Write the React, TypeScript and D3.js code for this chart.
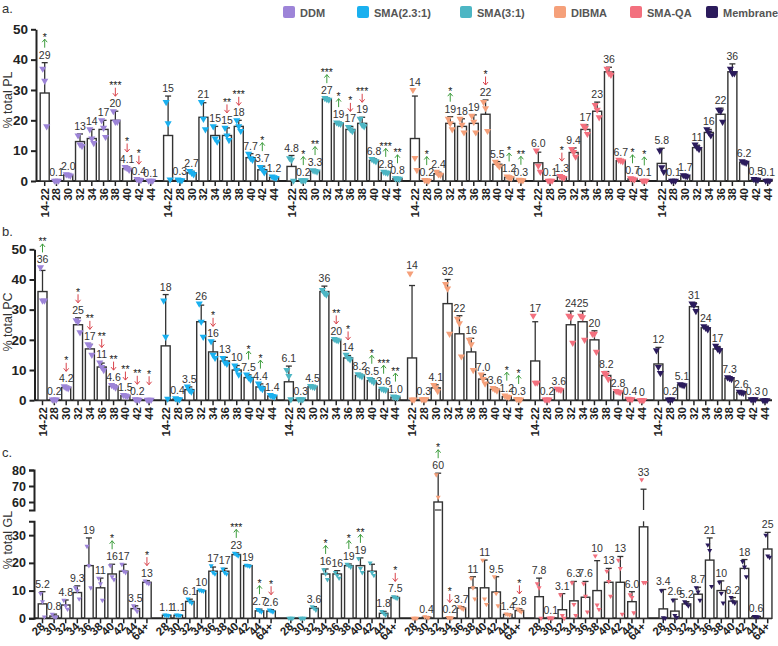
import React, { useEffect, useRef } from "react";
import * as d3 from "d3";

const series = ["DDM", "SMA(2.3:1)", "SMA(3:1)", "DIBMA", "SMA-QA", "Membrane"];
const colors = ["#9d84d8", "#1ab0ef", "#4db6c4", "#f5a07a", "#f3707e", "#2b1b5c"];
const catsAB = ["14-22", "28", "30", "32", "34", "36", "38", "40", "42", "44"];
const catsC = ["28", "30", "32", "34", "36", "38", "40", "42", "44", "64+"];

// ---- panel a: % total PL
const plMeans = [
  [29, 0.1, 2.0, 13, 14, 17, 20, 4.1, 0.4, 0.1],
  [15, 0.3, 2.7, 21, 15, 15, 18, 7.7, 3.7, 1.2],
  [4.8, 0.2, 3.3, 27, 19, 17, 19, 6.8, 2.8, 0.8],
  [14, 0.2, 2.4, 19, 18, 19, 22, 5.5, 1.2, 0.3],
  [6.0, 0.1, 1.3, 9.4, 17, 23, 36, 6.7, 0.7, 0.1],
  [5.8, 0.1, 1.7, 11, 16, 22, 36, 6.2, 0.5, 0.1],
];
const plSd = [
  [10, 0.1, 0.3, 2.5, 3, 3, 3, 0.5, 0.2, 0.05],
  [13, 0.2, 0.5, 4.8, 3, 2.5, 2, 1.3, 1.2, 0.3],
  [3.6, 0.1, 0.3, 0.3, 0.4, 1, 2, 0.5, 0.2, 0.1],
  [14, 0.1, 0.5, 2.2, 2.5, 2.8, 4.7, 0.9, 0.3, 0.1],
  [3.5, 0.1, 0.3, 1.5, 1.5, 3, 1.5, 0.3, 0.2, 0.1],
  [5, 0.1, 0.2, 0.8, 1, 2, 2.6, 0.3, 0.1, 0.1],
];
const plPts = [
  [[37, 33, 18], [0.1, 0.1, 0.1], [2.2, 2, 1.8], [15, 12, 11.5], [17, 14, 12.5], [20, 17.5, 14.5], [23, 19.5, 19.5], [4.6, 4.2, 3.7], [0.6, 0.4, 0.3], [0.1, 0.1, 0.1]],
  [[26, 19, 0.5], [0.5, 0.3, 0.2], [3.3, 2.7, 2.2], [26, 20.5, 17], [18, 14, 13], [17.5, 15, 13.5], [20, 18, 16.5], [9, 7.5, 7], [4.6, 3.8, 2.8], [1.5, 1.2, 1]],
  [[7.5, 7, 0.1], [0.2, 0.2, 0.2], [3.5, 3.3, 3.1], [27.3, 27, 26.8], [19.3, 19, 18.8], [17.8, 17, 16.4], [20.5, 18.5, 18], [7.2, 6.8, 6.5], [3, 2.8, 2.7], [0.9, 0.8, 0.7]],
  [[30, 7.6, 3.6], [0.3, 0.2, 0.1], [3, 2.2, 2], [20.5, 19, 17], [20.5, 18.5, 16], [21.5, 19.5, 16], [26, 24, 16.5], [6.3, 5.5, 4.8], [1.5, 1.2, 1], [0.4, 0.3, 0.2]],
  [[10, 5, 3], [0.1, 0.1, 0.1], [1.6, 1.3, 1], [10.5, 9.5, 8], [18.2, 17.5, 15.5], [25, 23.5, 21], [37, 35.5, 35], [7, 6.7, 6.5], [0.9, 0.7, 0.5], [0.1, 0.1, 0.1]],
  [[10, 4.5, 3], [0.1, 0.1, 0.1], [1.9, 1.7, 1.5], [12, 11, 10.5], [17, 16, 15], [23.5, 23, 19.5], [37, 35.5, 35.5], [6.5, 6.2, 6], [0.6, 0.5, 0.4], [0.1, 0.1, 0.1]],
];
const plLabels = [
  ["29", "0.1", "2.0", "13", "14", "17", "20", "4.1", "0.4", "0.1"],
  ["15", "0.3", "2.7", "21", "15", "15", "18", "7.7", "3.7", "1.2"],
  ["4.8", "0.2", "3.3", "27", "19", "17", "19", "6.8", "2.8", "0.8"],
  ["14", "0.2", "2.4", "19", "18", "19", "22", "5.5", "1.2", "0.3"],
  ["6.0", "0.1", "1.3", "9.4", "17", "23", "36", "6.7", "0.7", "0.1"],
  ["5.8", "0.1", "1.7", "11", "16", "22", "36", "6.2", "0.5", "0.1"],
];
const plNotes = [
  ["u*", "", "", "", "", "", "d***", "d*", "d*", ""],
  ["", "", "", "", "", "d**", "d***", "", "u*", ""],
  ["", "u*", "u**", "u***", "u*", "d*", "d***", "", "u***", "u**"],
  ["", "u*", "", "u*", "", "", "d*", "", "u*", "u**"],
  ["", "", "d*", "", "", "", "", "", "u*", "u*"],
  ["", "", "", "", "", "", "", "", "", ""],
];

// ---- panel b: % total PC
const pcMeans = [
  [36, 0.2, 4.2, 25, 17, 11, 4.6, 1.5, 0.2, 0.1],
  [18, 0.4, 3.5, 26, 16, 13, 10, 7.5, 4.4, 1.4],
  [6.1, 0.3, 4.5, 36, 20, 14, 8.2, 6.5, 3.6, 1.0],
  [14, 0.3, 4.1, 32, 22, 16, 7.0, 3.6, 1.2, 0.3],
  [13, 0.2, 3.6, 25, 26, 20, 8.2, 2.8, 0.4, 0],
  [12, 0.2, 5.1, 31, 24, 17, 7.3, 2.6, 0.3, 0],
];
const pcSd = [
  [7, 0.1, 0.4, 2.3, 1.5, 1.3, 0.4, 0.2, 0.1, 0.05],
  [17, 0.2, 0.9, 5.5, 3.5, 1.2, 1.5, 0.9, 1, 0.3],
  [5.2, 0.1, 0.2, 1.8, 0.3, 0.8, 0.4, 0.6, 0.2, 0.2],
  [24, 0.1, 1, 8, 6, 4.5, 1.5, 0.5, 0.3, 0.1],
  [13, 0.1, 0.2, 4.5, 3.5, 3, 1.3, 0.2, 0.1, 0],
  [5.5, 0.1, 0.2, 1.3, 0.5, 0.8, 0.3, 0.2, 0.1, 0],
];
const pcPts = [
  [[44, 33, 33], [0.2, 0.2, 0.2], [4.6, 4.2, 3.9], [26.5, 26, 22.5], [18.5, 18, 15], [12.5, 11, 10], [5, 4.7, 4.2], [1.7, 1.5, 1.3], [0.3, 0.2, 0.1], [0.1, 0.1, 0.1]],
  [[33, 21, 0.5], [0.6, 0.4, 0.3], [4.5, 3.3, 2.8], [32, 26, 21], [19.5, 15, 14], [14, 12.5, 12], [11.5, 10, 8.5], [8.5, 7.5, 6.8], [5.5, 4.2, 3.7], [1.7, 1.4, 1.2]],
  [[10, 8, 0.3], [0.3, 0.3, 0.3], [4.7, 4.5, 4.3], [36.5, 35.5, 35], [20.3, 20, 19.8], [15, 14, 13.5], [8.6, 8.2, 7.9], [7, 6.5, 6], [3.8, 3.6, 3.4], [1.2, 1, 0.9]],
  [[42, 0.2, 0.2], [0.3, 0.3, 0.3], [5, 4.2, 3], [38.5, 37, 22], [27, 25.5, 14.5], [20, 18.5, 10], [8.5, 7, 5.5], [4, 3.6, 3.2], [1.5, 1.2, 1], [0.4, 0.3, 0.2]],
  [[28, 5.8, 5.8], [0.2, 0.2, 0.2], [3.8, 3.6, 3.4], [28, 27.5, 19], [28, 27.5, 20], [22, 22, 16], [9, 8.5, 7], [3, 2.8, 2.6], [0.5, 0.4, 0.3], [0, 0, 0]],
  [[16.5, 11, 9], [0.2, 0.2, 0.2], [5.3, 5.1, 4.9], [32, 31.5, 29.5], [24.5, 24, 23.5], [18, 17, 16.5], [7.6, 7.3, 7], [2.8, 2.6, 2.4], [0.3, 0.3, 0.3], [0, 0, 0]],
];
const pcLabels = [
  ["36", "0.2", "4.2", "25", "17", "11", "4.6", "1.5", "0.2", ""],
  ["18", "0.4", "3.5", "26", "16", "13", "10", "7.5", "4.4", "1.4"],
  ["6.1", "0.3", "4.5", "36", "20", "14", "8.2", "6.5", "3.6", "1.0"],
  ["14", "0.3", "4.1", "32", "22", "16", "7.0", "3.6", "1.2", "0.3"],
  ["17", "0.2", "3.6", "24", "25", "20", "8.2", "2.8", "0.4", "0"],
  ["12", "0.2", "5.1", "31", "24", "17", "7.3", "2.6", "0.3", "0"],
];
const pcNotes = [
  ["u**", "", "d*", "d*", "d**", "d**", "d**", "d**", "d**", "d*"],
  ["", "", "", "", "d*", "", "", "u*", "u*", ""],
  ["", "", "", "", "d**", "d*", "", "u*", "u***", "u**"],
  ["", "", "", "", "", "", "", "", "u*", "u*"],
  ["", "", "", "", "", "", "", "", "", ""],
  ["", "", "", "", "", "", "", "", "", ""],
];

// ---- panel c: % total GL (broken axis)
const glMeans = [
  [5.2, 0.8, 4.8, 9.3, 19, 11, 16, 17, 3.5, 13],
  [1.1, 1.1, 6.1, 10, 17, 17, 23, 19, 2.7, 2.6],
  [0, 0, 3.6, 16, 16, 19, 19, 17, 1.8, 7.5],
  [0, 0.4, 60, 0.2, 3.7, 11, 11, 9.5, 1.4, 2.8],
  [7.8, 0.1, 3.1, 6.3, 7.6, 10, 13, 13, 6.0, 33],
  [3.4, 2.6, 5.2, 8.7, 21, 10, 6.2, 18, 0.6, 25],
];
const glSd = [
  [4.4, 0.7, 1.8, 2.4, 10, 3.5, 3.5, 2.5, 1, 0.6],
  [0.2, 0.2, 0.8, 0.2, 1.5, 1, 0.6, 0.2, 0.6, 0.5],
  [0, 0, 0.6, 1.8, 1.2, 0.6, 2.8, 2.5, 0.7, 0.4],
  [0, 0.2, 18, 0.1, 0.5, 4, 10, 5.5, 0.3, 0.6],
  [6.7, 0.1, 5.8, 7, 5.7, 10.8, 5, 9.3, 3.6, 35],
  [7, 4.3, 0.8, 2.5, 8, 3.5, 1.3, 3.2, 0.1, 6],
];
const glPts = [
  [[9, 6, 0.5], [1.5, 0.5, 0.4], [6.5, 4.5, 3.3], [11, 10, 7], [26, 19, 11], [14.5, 12.5, 6.5], [19, 15, 14], [19.5, 17, 16.5], [4.5, 3.5, 2.5], [13.5, 12.8, 12.5]],
  [[1.2, 1.1, 1], [1.2, 1.1, 1], [7, 6, 5.5], [10.2, 10, 9.8], [19, 16.5, 16], [17.8, 16.5, 16], [23.5, 23, 22.5], [19.2, 19, 18.8], [3.2, 2.7, 2.3], [3, 2.6, 2.3]],
  [[0, 0, 0], [0, 0, 0], [4.2, 3.6, 3], [17.5, 16, 14], [16.5, 15.5, 14.5], [19.5, 19, 18.5], [21.5, 18, 16.5], [20, 16.5, 15.5], [2.5, 1.8, 1.2], [7.8, 7.5, 7.2]],
  [[0, 0, 0], [0.6, 0.4, 0.2], [77, 63], [0.3, 0.2, 0.1], [4.2, 3.7, 3.3], [14.5, 11, 7], [21, 7, 5], [15, 9, 4.5], [1.6, 1.4, 1.2], [3.4, 2.8, 2.3]],
  [[12.5, 11, 0], [0.1, 0.1, 0.1], [8.5, 1, 0], [12.8, 5, 1], [12.5, 8, 2.3], [22.5, 4.8, 3.2], [17, 13.3, 8], [21, 18, 1.5], [8.5, 7.5, 2], [74, 12.9, 12.9]],
  [[10, 0.2, 0], [6.5, 1, 0.3], [6, 5.3, 4.5], [11, 9.5, 6.5], [26.5, 24.5, 11.5], [13, 9, 5.5], [7.5, 6, 5.5], [20.5, 18.5, 15], [0.7, 0.6, 0.5], [30, 22.5, 22]],
];
const glLabels = [
  ["5.2", "0.8", "4.8", "9.3", "19", "11", "16", "17", "3.5", "13"],
  ["1.1", "1.1", "6.1", "10", "17", "17", "23", "19", "2.7", "2.6"],
  ["", "", "3.6", "16", "16", "19", "19", "", "1.8", "7.5"],
  ["", "0.4", "60", "0.2", "3.7", "11", "11", "9.5", "1.4", "2.8"],
  ["7.8", "0.1", "3.1", "6.3", "7.6", "10", "13", "13", "6.0", "33"],
  ["3.4", "2.6", "5.2", "8.7", "21", "10", "6.2", "18", "0.6", "25"],
];
const glNotes = [
  ["", "", "", "", "", "", "u*", "", "", "d*"],
  ["", "", "", "", "", "", "u***", "", "u*", "d*"],
  ["", "", "", "u*", "", "u*", "u**", "", "", "d*"],
  ["", "", "u*", "d*", "", "", "", "", "", "d*"],
  ["", "", "", "", "", "", "", "", "", ""],
  ["", "", "", "", "", "", "", "", "", ""],
];

const FONT = "Liberation Sans, Arial, sans-serif";

function drawPanel(svg, p) {
  const n = 5 * p.stride + 9;
  const x = d3.scaleLinear().domain([0, n]).range([p.x0, p.x1]);
  const lower = d3.scaleLinear().domain(p.lowDomain).range(p.lowRange);
  const upper = p.upDomain ? d3.scaleLinear().domain(p.upDomain).range(p.upRange) : null;
  const cut = p.lowDomain[1];
  const yv = (v) => {
    if (!upper || v <= cut) return lower(v);
    if (v >= p.upDomain[0]) return upper(v);
    return null;
  };
  const y0 = lower(0);
  const g = svg.append("g");

  // axes
  g.append("line")
    .attr("x1", p.axisX).attr("x2", 772).attr("y1", y0).attr("y2", y0)
    .attr("stroke", "#222").attr("stroke-width", 2);

  const styleAxis = (sel, fs) => {
    sel.select(".domain").attr("stroke", "#222").attr("stroke-width", 2);
    sel.selectAll(".tick line").attr("stroke", "#222").attr("stroke-width", 2);
    sel.selectAll(".tick text").attr("font-family", FONT).attr("font-weight", "bold").attr("font-size", fs).attr("fill", "#222");
  };
  const ax = g.append("g").attr("transform", `translate(${p.axisX},0)`)
    .call(d3.axisLeft(lower).tickValues(p.lowTicks).tickSize(5).tickSizeOuter(upper ? 5 : 0).tickPadding(3));
  styleAxis(ax, p.tickFs);
  if (upper) {
    const ax2 = g.append("g").attr("transform", `translate(${p.axisX},0)`)
      .call(d3.axisLeft(upper).tickValues(p.upTicks).tickSize(5).tickSizeOuter(5).tickPadding(3));
    styleAxis(ax2, p.tickFs);
  }

  g.append("text")
    .attr("transform", `translate(12,${p.titleY}) rotate(-90)`)
    .attr("text-anchor", "middle").attr("font-family", FONT).attr("font-size", 12.5).attr("fill", "#333")
    .text(p.title);
  g.append("text").attr("x", 2).attr("y", p.letterY).attr("font-family", FONT).attr("font-size", 13).attr("fill", "#333").text(p.letter);

  const bars = [];
  series.forEach((s, gi) => {
    p.cats.forEach((c, i) => {
      bars.push({ gi, i, cat: c, m: p.means[gi][i], sd: p.sd[gi][i], pts: p.pts[gi][i], label: p.labels[gi][i], note: p.notes[gi][i], cx: x(gi * p.stride + i) });
    });
  });

  // x ticks + labels
  const tk = g.append("g");
  bars.forEach((b) => {
    tk.append("line").attr("x1", b.cx).attr("x2", b.cx).attr("y1", y0).attr("y2", y0 + 5).attr("stroke", "#222").attr("stroke-width", 1.5);
    if (p.rot === -90) {
      tk.append("text")
        .attr("transform", `translate(${b.cx + 4},${y0 + 7}) rotate(-90)`)
        .attr("text-anchor", "end").attr("font-family", FONT).attr("font-weight", "bold").attr("font-size", 11.5).attr("fill", "#222")
        .text(b.cat);
    } else {
      tk.append("text")
        .attr("transform", `translate(${b.cx + 3},${y0 + 9}) rotate(-45)`)
        .attr("text-anchor", "end").attr("font-family", FONT).attr("font-weight", "bold").attr("font-size", 11.5).attr("fill", "#222")
        .text(b.cat);
    }
  });

  const bw = p.bw;
  // bars
  bars.forEach((b) => {
    const top = yv(b.m);
    g.append("rect")
      .attr("x", b.cx - bw / 2).attr("y", top).attr("width", bw).attr("height", Math.max(0, y0 - top))
      .attr("fill", "#fff").attr("stroke", "#333").attr("stroke-width", 1.4);
    if (upper && b.m > cut) {
      g.append("line").attr("x1", b.cx - bw / 2 + 1).attr("x2", b.cx + bw / 2 - 1)
        .attr("y1", upper(p.upDomain[0])).attr("y2", upper(p.upDomain[0])).attr("stroke", "#333").attr("stroke-width", 1.2);
    }
  });

  // error bars (upper whisker only)
  bars.forEach((b) => {
    if (!(b.sd > 0)) return;
    const a = b.m;
    const t = b.m + b.sd;
    const segs = [];
    if (!upper || t <= cut) segs.push([yv(a), yv(t)]);
    else if (a >= p.upDomain[0]) segs.push([yv(a), yv(t)]);
    else {
      segs.push([lower(a), lower(cut)]);
      if (t >= p.upDomain[0]) segs.push([upper(p.upDomain[0]), upper(t)]);
    }
    segs.forEach(([s, e]) => {
      g.append("line").attr("x1", b.cx).attr("x2", b.cx).attr("y1", s).attr("y2", e).attr("stroke", "#333").attr("stroke-width", 1.3);
    });
    const yt = yv(t);
    if (yt != null) {
      g.append("line").attr("x1", b.cx - 3).attr("x2", b.cx + 3).attr("y1", yt).attr("y2", yt).attr("stroke", "#333").attr("stroke-width", 1.3);
    }
  });

  // replicate points
  const tri = d3.symbol(d3.symbolTriangle, p.ptSize);
  bars.forEach((b) => {
    b.pts.forEach((v, k) => {
      const yy = yv(v);
      if (yy == null) return;
      const dx = (k - 1) * (bw * 0.22);
      g.append("path")
        .attr("d", tri())
        .attr("transform", `translate(${b.cx + dx},${yy}) rotate(180)`)
        .attr("fill", colors[b.gi]);
    });
  });

  // value labels + annotations
  bars.forEach((b) => {
    const ys = [yv(b.m), b.sd > 0 ? yv(b.m + b.sd) : null, ...b.pts.map(yv)].filter((v) => v != null);
    const top = Math.min(...ys);
    const base = top - 4;
    if (b.label) {
      g.append("text").attr("x", b.cx).attr("y", base).attr("text-anchor", "middle")
        .attr("font-family", FONT).attr("font-size", 10.5).attr("fill", "#333").text(b.label);
    }
    if (b.note) {
      const dir = b.note[0];
      const stars = b.note.slice(1);
      const ab = base - 11;
      const at = base - 19.5;
      const col = dir === "u" ? "#3f9e3f" : "#d9434b";
      const d = dir === "u"
        ? `M${b.cx},${ab}L${b.cx},${at}M${b.cx - 2.5},${at + 3}L${b.cx},${at}L${b.cx + 2.5},${at + 3}`
        : `M${b.cx},${at}L${b.cx},${ab}M${b.cx - 2.5},${ab - 3}L${b.cx},${ab}L${b.cx + 2.5},${ab - 3}`;
      g.append("path").attr("d", d).attr("fill", "none").attr("stroke", col).attr("stroke-width", 1);
      g.append("text").attr("x", b.cx).attr("y", at + 1.5).attr("text-anchor", "middle")
        .attr("font-family", FONT).attr("font-size", 10.5).attr("fill", "#222").text(stars);
    }
  });
}

const panels = [
  {
    letter: "a.", letterY: 13, title: "% total PL", titleY: 100,
    means: plMeans, sd: plSd, pts: plPts, labels: plLabels, notes: plNotes, cats: catsAB,
    x0: 44.7, x1: 767.7, stride: 10.48, bw: 9, axisX: 36,
    lowDomain: [0, 50], lowRange: [181, 29.3], lowTicks: [0, 10, 20, 30, 40, 50],
    rot: -90, tickFs: 13.5, ptSize: 22,
  },
  {
    letter: "b.", letterY: 236, title: "% total PC", titleY: 322,
    means: pcMeans, sd: pcSd, pts: pcPts, labels: pcLabels, notes: pcNotes, cats: catsAB,
    x0: 42.5, x1: 765, stride: 10.4, bw: 9, axisX: 34.5,
    lowDomain: [0, 50], lowRange: [400.2, 249.3], lowTicks: [0, 10, 20, 30, 40, 50],
    rot: -90, tickFs: 13.5, ptSize: 22,
  },
  {
    letter: "c.", letterY: 457, title: "% total GL", titleY: 540,
    means: glMeans, sd: glSd, pts: glPts, labels: glLabels, notes: glNotes, cats: catsC,
    x0: 42.5, x1: 767.7, stride: 10.7, bw: 8.5, axisX: 34,
    lowDomain: [0, 35], lowRange: [618.3, 521.3], lowTicks: [0, 10, 20, 30],
    upDomain: [55, 80], upRange: [510, 470], upTicks: [60, 70, 80],
    rot: -45, tickFs: 12.5, ptSize: 11,
  },
];

const legendX = [283, 357, 460, 554, 630, 706];

export default function App() {
  const ref = useRef(null);
  useEffect(() => {
    const svg = d3.select(ref.current);
    svg.selectAll("*").remove();
    panels.forEach((p) => drawPanel(svg, p));
    const lg = svg.append("g");
    series.forEach((s, i) => {
      lg.append("rect").attr("x", legendX[i]).attr("y", 6).attr("width", 12).attr("height", 12).attr("rx", 2).attr("fill", colors[i]);
      lg.append("text").attr("x", legendX[i] + 17).attr("y", 16.5)
        .attr("font-family", FONT).attr("font-weight", "bold").attr("font-size", 11).attr("fill", "#555").text(s);
    });
  }, []);
  return (
    <svg ref={ref} width={778} height={646} style={{ position: "absolute", left: 0, top: 0, background: "#fff" }} />
  );
}
